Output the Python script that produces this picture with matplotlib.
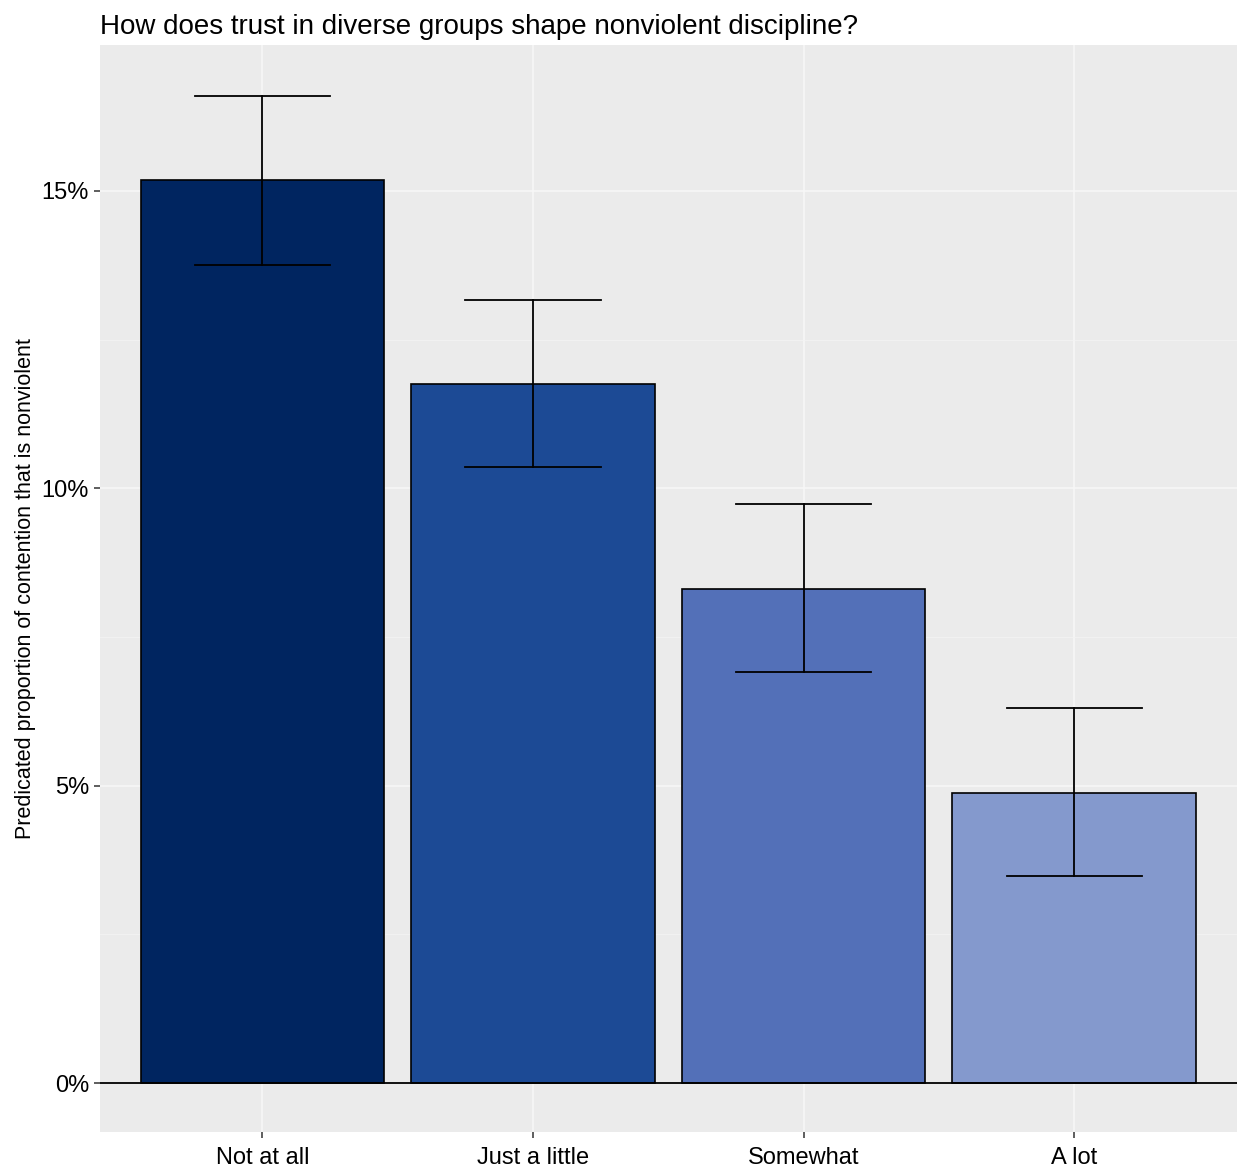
import matplotlib
matplotlib.use("Agg")
import matplotlib.pyplot as plt
from matplotlib.ticker import FuncFormatter, MultipleLocator

categories = ["Not at all", "Just a little", "Somewhat", "A lot"]
values = [15.18, 11.76, 8.30, 4.87]
lower = [13.76, 10.35, 6.91, 3.48]
upper = [16.59, 13.16, 9.73, 6.30]
colors = ["#002560", "#1c4a95", "#5370b8", "#8499cd"]
title = "How does trust in diverse groups shape nonviolent discipline?"
ylabel = "Predicated proportion of contention that is nonviolent"

plt.rcParams['font.family'] = ['Liberation Sans', 'DejaVu Sans']

fig = plt.figure(figsize=(12.38, 11.67), dpi=100)
ax = fig.add_axes([0.0808, 0.030, 0.918, 0.9314])
ax.set_facecolor("#ebebeb")

x = list(range(len(categories)))
ax.bar(x, values, width=0.9, color=colors, edgecolor="black", linewidth=1.2, zorder=3)
for xi, lo, hi in zip(x, lower, upper):
    ax.plot([xi, xi], [lo, hi], color="black", lw=1.3, zorder=4)
    ax.plot([xi - 0.25, xi + 0.25], [lo, lo], color="black", lw=1.3, zorder=4)
    ax.plot([xi - 0.25, xi + 0.25], [hi, hi], color="black", lw=1.3, zorder=4)

ax.axhline(0, color="black", lw=1.3, zorder=5)

ax.set_xlim(-0.6, 3.6)
ax.set_ylim(-0.82, 17.45)
ax.yaxis.set_major_locator(MultipleLocator(5))
ax.yaxis.set_minor_locator(MultipleLocator(2.5))
ax.yaxis.set_major_formatter(FuncFormatter(lambda v, p: f"{v:.0f}%"))
ax.set_xticks(x)
ax.set_xticklabels(categories)

ax.grid(which="major", color="#f7f7f7", lw=1.2, zorder=0)
ax.grid(which="minor", axis="y", color="#f3f3f3", lw=0.6, zorder=0)
ax.set_axisbelow(True)
for s in ax.spines.values():
    s.set_visible(False)

ax.tick_params(axis="both", which="major", length=4, width=1.1, color="#333333",
               labelsize=17, labelcolor="black", pad=4)
ax.tick_params(axis="x", which="major", pad=7)
ax.tick_params(axis="y", which="minor", length=0)

ax.set_ylabel(ylabel, fontsize=15.5, labelpad=4)
ax.set_title(title, fontsize=20, loc="left", x=0.0, pad=8)

fig.savefig("out.png", dpi=100)
